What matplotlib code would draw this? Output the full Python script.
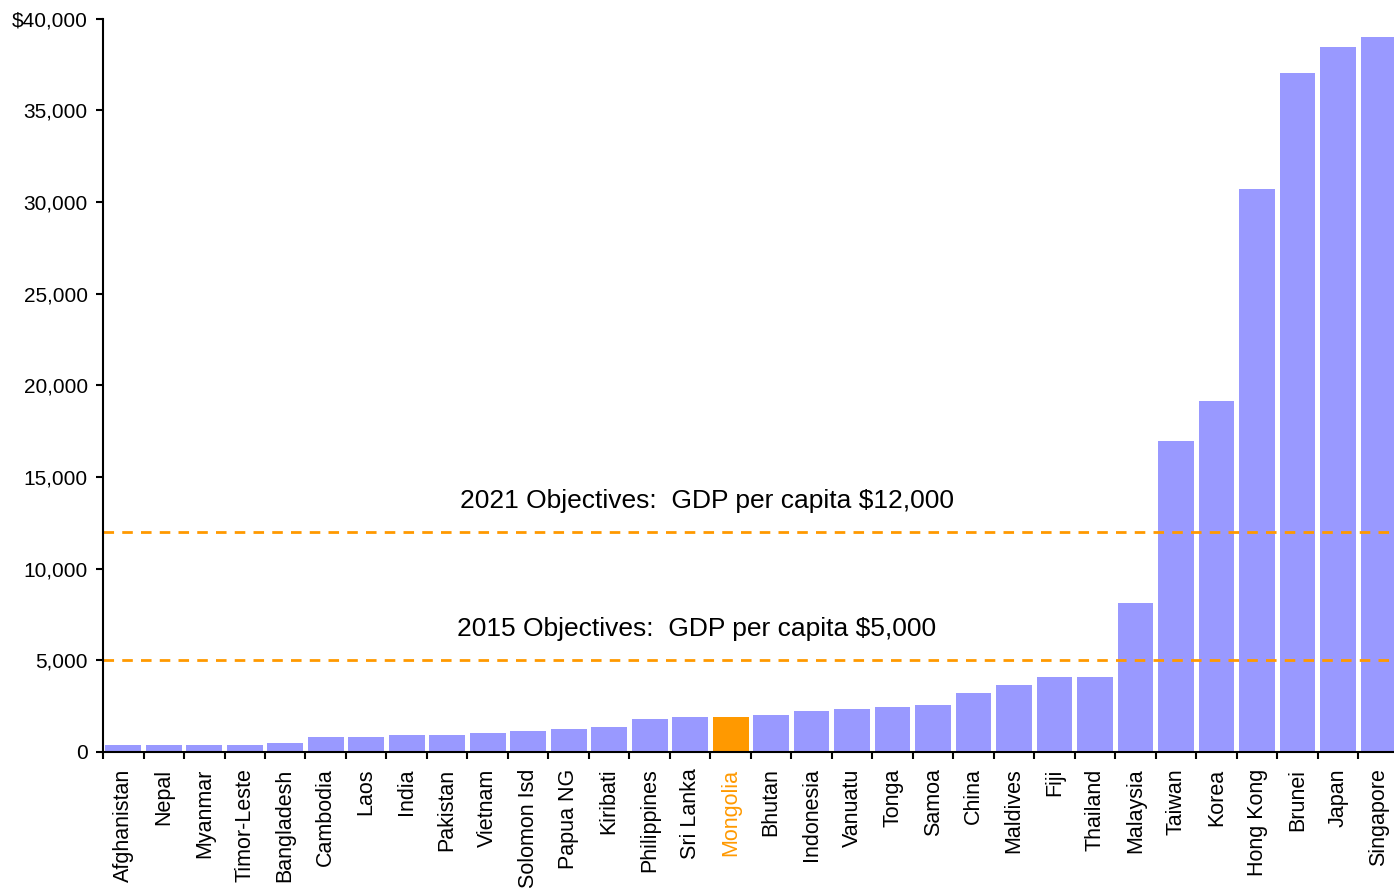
import matplotlib
matplotlib.use("Agg")
import matplotlib.pyplot as plt
from matplotlib.ticker import FuncFormatter, FixedLocator

plt.rcParams['font.family'] = ['Liberation Sans', 'DejaVu Sans']

countries = ["Afghanistan", "Nepal", "Myanmar", "Timor-Leste", "Bangladesh",
             "Cambodia", "Laos", "India", "Pakistan", "Vietnam", "Solomon Isd",
             "Papua NG", "Kiribati", "Philippines", "Sri Lanka", "Mongolia",
             "Bhutan", "Indonesia", "Vanuatu", "Tonga", "Samoa", "China",
             "Maldives", "Fiji", "Thailand", "Malaysia", "Taiwan", "Korea",
             "Hong Kong", "Brunei", "Japan", "Singapore"]
gdp_per_capita = [400, 400, 400, 400, 500,
                  820, 820, 940, 940, 1040, 1150,
                  1250, 1360, 1800, 1910, 1910,
                  2020, 2240, 2340, 2450, 2560, 3220,
                  3650, 4090, 4090, 8120, 16960, 19140,
                  30700, 37020, 38440, 38990]
highlight = "Mongolia"
targets = [12000, 5000]
target_labels = ["2021 Objectives:  GDP per capita $12,000",
                 "2015 Objectives:  GDP per capita $5,000"]

bar_color = "#9999FF"
accent = "#FF9900"

fig = plt.figure(figsize=(13.94, 8.93), dpi=100)
ax = fig.add_axes([0.0739, 0.158, 0.9261, 0.821])

x = list(range(len(countries)))
colors = [accent if c == highlight else bar_color for c in countries]
ax.bar(x, gdp_per_capita, width=0.88, color=colors, zorder=2)

# target lines with their captions
for val, lab, tx, ty in zip(targets, target_labels, [14.42, 14.15], [13700, 6720]):
    ax.axhline(val, color=accent, lw=2, linestyle=(0, (3.8, 2.95)), zorder=3)
    ax.text(tx, ty, lab, ha="center", va="center", fontsize=19, color="black")

ax.set_xlim(-0.5, 31.38)
ax.set_ylim(0, 40000)

ax.yaxis.set_major_locator(FixedLocator(range(0, 40001, 5000)))
ax.yaxis.set_major_formatter(FuncFormatter(
    lambda v, p: "$40,000" if v == 40000 else ("0" if v == 0 else f"{int(v):,}")))
ax.tick_params(axis="y", direction="out", length=5, width=1.5, labelsize=15, pad=6)

# boundary ticks between bars, names centred under each bar
ax.xaxis.set_major_locator(FixedLocator([i - 0.5 for i in range(len(countries) + 1)]))
ax.xaxis.set_major_formatter(FuncFormatter(lambda v, p: ""))
ax.xaxis.set_minor_locator(FixedLocator(x))
ax.set_xticks(x, countries, minor=True, rotation=90)
ax.tick_params(axis="x", which="major", direction="out", length=5, width=1.5)
ax.tick_params(axis="x", which="minor", length=0, labelsize=15.5, pad=12)
for lbl in ax.get_xticklabels(minor=True):
    if lbl.get_text() == highlight:
        lbl.set_color(accent)

for s in ["top", "right"]:
    ax.spines[s].set_visible(False)
for s in ["left", "bottom"]:
    ax.spines[s].set_linewidth(1.5)
    ax.spines[s].set_zorder(4)

fig.savefig("out.png", dpi=100)
